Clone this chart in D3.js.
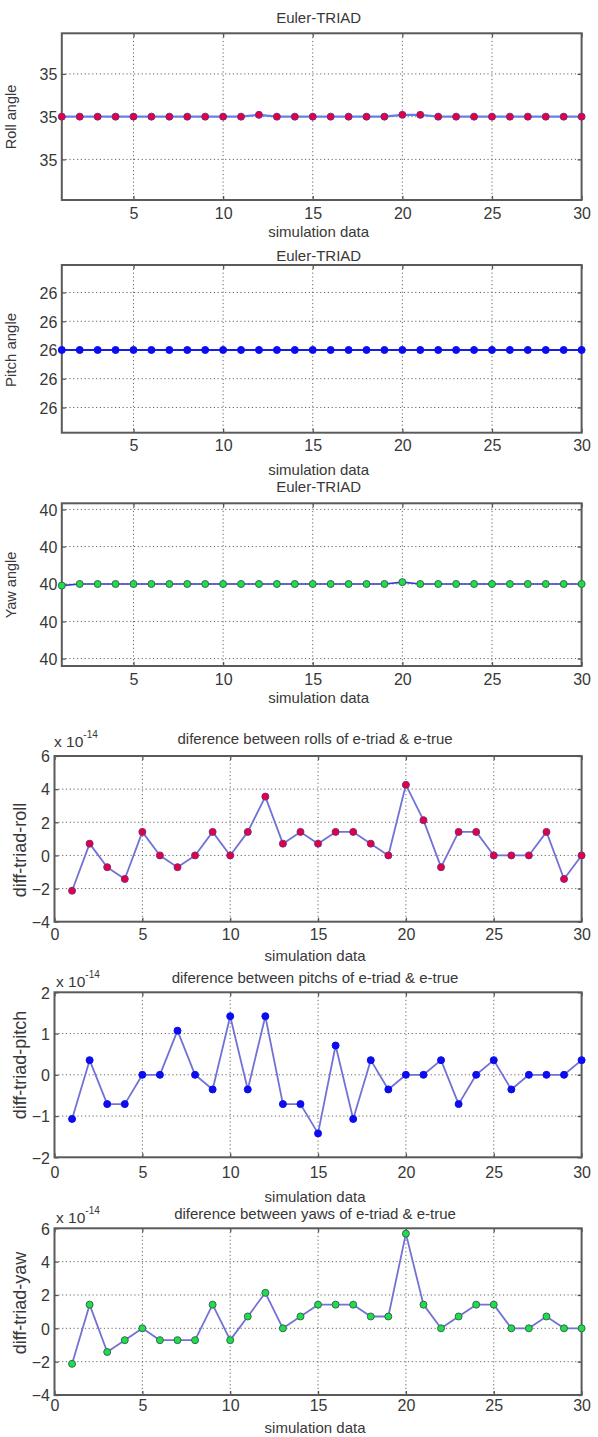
<!DOCTYPE html>
<html>
<head>
<meta charset="utf-8">
<script src="https://cdn.jsdelivr.net/npm/d3@7"></script>
<style>
  body { margin: 0; background: #fff; }
  svg { display: block; }
  text { font-family: "Liberation Sans", Arial, sans-serif; fill: #383838; }
</style>
</head>
<body>
<svg id="fig" width="598" height="1437"></svg>
<script>
// sample number along x
const samples = [1,2,3,4,5,6,7,8,9,10,11,12,13,14,15,16,17,18,19,20,21,22,23,24,25,26,27,28,29,30];

// euler angles from TRIAD (degrees)
const rollAngle = [35,35,35,35,35,35,35,35,35,35,35,35.00000000000004,35,35,35,35,35,35,35,
  35.00000000000004,35.00000000000004,35,35,35,35,35,35,35,35,35];
const pitchAngle = [26,26,26,26,26,26,26,26,26,26,26,26,26,26,26,26,26,26,26,26,26,26,26,26,26,26,26,26,26,26];
const yawAngle = [39.99999999999996,40,40,40,40,40,40,40,40,40,40,40,40,40,40,40,40,40,40,
  40.00000000000005,40,40,40,40,40,40,40,40,40,40];

// triad minus true, in units of 1e-14
const rollDiff = [-2.13,0.71,-0.71,-1.42,1.42,0,-0.71,0,1.42,0,1.42,3.55,0.71,1.42,0.71,
  1.42,1.42,0.71,0,4.26,2.13,-0.71,1.42,1.42,0,0,0,1.42,-1.42,0];
const pitchDiff = [-1.07,0.355,-0.71,-0.71,0,0,1.07,0,-0.355,1.42,-0.355,1.42,-0.71,-0.71,-1.42,
  0.71,-1.07,0.355,-0.355,0,0,0.355,-0.71,0,0.355,-0.355,0,0,0,0.355];
const yawDiff = [-2.13,1.42,-1.42,-0.71,0,-0.71,-0.71,-0.71,1.42,-0.71,0.71,2.13,0,0.71,1.42,
  1.42,1.42,0.71,0.71,5.68,1.42,0,0.71,1.42,1.42,0,0,0.71,0,0];

// tick values
const rollTicks = [34.999999999999, 35, 35.000000000001];
const pitchTicks = [25.999999999998, 25.999999999999, 26, 26.000000000001, 26.000000000002];
const yawTicks = [39.999999999998, 39.999999999999, 40, 40.000000000001, 40.000000000002];
const xTicksAngle = [5, 10, 15, 20, 25, 30];
const xTicksDiff = [0, 5, 10, 15, 20, 25, 30];
const diffTicksWide = [-4, -2, 0, 2, 4, 6];
const diffTicksPitch = [-2, -1, 0, 1, 2];

const svg = d3.select("#fig");

const panels = [
  { values: rollAngle, title: "Euler-TRIAD", ylabel: "Roll angle",
    box: [61.8, 33.3, 581.6, 200], xdom: [1, 30], ydom: [34.999999999998045, 35.000000000001955],
    xticks: xTicksAngle, yticks: rollTicks, yfmt: d3.format(".0f"),
    titleY: 23, tickY: 218.5, xlabelY: 236.5, ylabelX: 16, ylabelY: 117, ylabelSize: 14.5,
    line: "#6580e4", lineW: 2.2, fill: "#e3003c", edge: "#7a2a8c" },
  { values: pitchAngle, title: "Euler-TRIAD", ylabel: "Pitch angle",
    box: [61.8, 265, 581.6, 432.7], xdom: [1, 30], ydom: [25.999999999997123, 26.000000000002956],
    xticks: xTicksAngle, yticks: pitchTicks, yfmt: d3.format(".0f"),
    titleY: 261, tickY: 451, xlabelY: 475, ylabelX: 16, ylabelY: 350, ylabelSize: 15,
    line: "#1c1ce8", lineW: 2, fill: "#0c0cf0", edge: "#0c0cf0" },
  { values: yawAngle, title: "Euler-TRIAD", ylabel: "Yaw angle",
    box: [61.8, 503.3, 581.6, 666], xdom: [1, 30], ydom: [39.999999999997805, 40.00000000000216],
    xticks: xTicksAngle, yticks: yawTicks, yfmt: d3.format(".0f"),
    titleY: 491.5, tickY: 685, xlabelY: 702.5, ylabelX: 16, ylabelY: 585, ylabelSize: 14.5,
    line: "#3a3ac8", lineW: 1.6, fill: "#22dd46", edge: "#2f6a5a" },
  { values: rollDiff, title: "diference between rolls of e-triad & e-true", ylabel: "diff-triad-roll",
    box: [54.5, 756, 581.6, 921.7], xdom: [0, 30], ydom: [-4, 6],
    xticks: xTicksDiff, yticks: diffTicksWide, yfmt: d3.format("d"), expo: [54, 747],
    titleY: 744, tickY: 940, xlabelY: 960.5, ylabelX: 26, ylabelY: 850, ylabelSize: 18,
    line: "#7272d6", lineW: 1.8, fill: "#e3003c", edge: "#7a2a8c" },
  { values: pitchDiff, title: "diference between pitchs of e-triad & e-true", ylabel: "diff-triad-pitch",
    box: [54.5, 992.3, 581.6, 1157.3], xdom: [0, 30], ydom: [-2, 2],
    xticks: xTicksDiff, yticks: diffTicksPitch, yfmt: d3.format("d"), expo: [56, 987],
    titleY: 983, tickY: 1178, xlabelY: 1202, ylabelX: 26, ylabelY: 1065, ylabelSize: 18,
    line: "#7272d6", lineW: 1.8, fill: "#0c0cf0", edge: "#0c0cf0" },
  { values: yawDiff, title: "diference between yaws of e-triad & e-true", ylabel: "diff-triad-yaw",
    box: [54.5, 1228.3, 581.6, 1395], xdom: [0, 30], ydom: [-4, 6],
    xticks: xTicksDiff, yticks: diffTicksWide, yfmt: d3.format("d"), expo: [56, 1223],
    titleY: 1219, tickY: 1410.5, xlabelY: 1433, ylabelX: 26, ylabelY: 1303, ylabelSize: 18,
    line: "#7272d6", lineW: 1.8, fill: "#22dd46", edge: "#2f6a5a" }
];

panels.forEach(drawPanel);

function drawPanel(p) {
  const [x0, y0, x1, y1] = p.box;
  const x = d3.scaleLinear().domain(p.xdom).range([x0, x1]);
  const y = d3.scaleLinear().domain(p.ydom).range([y1, y0]);
  const g = svg.append("g");

  // dotted grid
  g.append("g").selectAll("line.gx")
    .data(p.xticks.filter(t => t > p.xdom[0] && t < p.xdom[1]))
    .join("line")
    .attr("x1", d => x(d)).attr("x2", d => x(d))
    .attr("y1", y0).attr("y2", y1)
    .attr("stroke", "#666").attr("stroke-width", 1)
    .attr("stroke-dasharray", "1.2,2.6");
  g.append("g").selectAll("line.gy")
    .data(p.yticks.filter(t => y(t) > y0 + 1 && y(t) < y1 - 1))
    .join("line")
    .attr("x1", x0).attr("x2", x1)
    .attr("y1", d => y(d)).attr("y2", d => y(d))
    .attr("stroke", "#666").attr("stroke-width", 1)
    .attr("stroke-dasharray", "1.2,2.6");

  // axes with inward ticks, matlab style
  const xb = g.append("g").attr("transform", `translate(0,${y1})`)
    .call(d3.axisBottom(x).tickValues(p.xticks).tickSizeInner(-4).tickSizeOuter(0).tickFormat(d3.format("d")));
  const xt = g.append("g").attr("transform", `translate(0,${y0})`)
    .call(d3.axisTop(x).tickValues(p.xticks).tickSizeInner(-4).tickSizeOuter(0).tickFormat(""));
  const yl = g.append("g").attr("transform", `translate(${x0},0)`)
    .call(d3.axisLeft(y).tickValues(p.yticks).tickSizeInner(-4).tickSizeOuter(0).tickFormat(p.yfmt));
  const yr = g.append("g").attr("transform", `translate(${x1},0)`)
    .call(d3.axisRight(y).tickValues(p.yticks).tickSizeInner(-4).tickSizeOuter(0).tickFormat(""));
  [xb, xt, yl, yr].forEach(a => {
    a.select(".domain").remove();
    a.selectAll(".tick line").attr("stroke", "#555").attr("stroke-width", 1.3);
  });
  xb.selectAll(".tick text")
    .attr("y", null).attr("dy", null)
    .attr("transform", `translate(0,${p.tickY - y1})`)
    .attr("font-size", 16).attr("fill", "#3a3a3a")
    .attr("font-family", '"Liberation Sans", Arial, sans-serif');
  yl.selectAll(".tick text")
    .attr("x", -4.5).attr("dy", "0.36em")
    .attr("font-size", 16).attr("fill", "#3a3a3a")
    .attr("font-family", '"Liberation Sans", Arial, sans-serif');

  // box
  g.append("rect")
    .attr("x", x0).attr("y", y0)
    .attr("width", x1 - x0).attr("height", y1 - y0)
    .attr("fill", "none").attr("stroke", "#5a5a5a").attr("stroke-width", 2);

  // series
  const pts = samples.map((s, i) => ({ s: s, v: p.values[i] }));
  g.append("path")
    .datum(pts)
    .attr("fill", "none")
    .attr("stroke", p.line)
    .attr("stroke-width", p.lineW)
    .attr("stroke-linejoin", "round")
    .attr("d", d3.line().x(d => x(d.s)).y(d => y(d.v)));
  g.append("g").selectAll("circle")
    .data(pts)
    .join("circle")
    .attr("cx", d => x(d.s))
    .attr("cy", d => y(d.v))
    .attr("r", 3.5)
    .attr("fill", p.fill)
    .attr("stroke", p.edge)
    .attr("stroke-width", 1);

  // labels
  const mid = (x0 + x1) / 2 - 3;
  svg.append("text").attr("x", mid).attr("y", p.titleY)
    .attr("text-anchor", "middle").attr("font-size", 15).text(p.title);
  svg.append("text").attr("x", mid).attr("y", p.xlabelY)
    .attr("text-anchor", "middle").attr("font-size", 15).text("simulation data");
  svg.append("text")
    .attr("transform", `translate(${p.ylabelX},${p.ylabelY}) rotate(-90)`)
    .attr("text-anchor", "middle").attr("font-size", p.ylabelSize).text(p.ylabel);

  if (p.expo) {
    const t = svg.append("text").attr("x", p.expo[0]).attr("y", p.expo[1]).attr("font-size", 15.5);
    t.append("tspan").text("x 10");
    t.append("tspan").attr("dy", -9).attr("font-size", 10).text("-14");
  }
}
</script>
</body>
</html>
